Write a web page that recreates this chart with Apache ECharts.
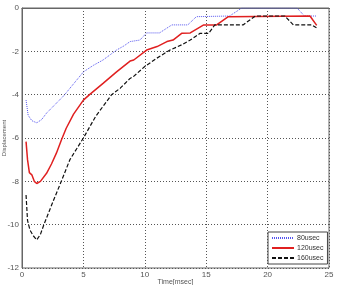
<!DOCTYPE html>
<html>
<head>
<meta charset="utf-8">
<script src="https://cdn.jsdelivr.net/npm/echarts@6/dist/echarts.min.js"></script>
<style>
  html, body { margin: 0; padding: 0; background: #fff; }
  #chart { width: 337px; height: 285px; }
</style>
</head>
<body>
<div id="chart"></div>
<script>
// time [msec] and displacement for each pulse width
var t80 = [0.33, 0.5, 0.8, 1.2, 1.6, 2.0, 2.7, 3.4, 4.2, 5.0, 5.8, 6.6, 7.2, 7.7, 8.3, 8.8, 9.6, 10.15, 11.2, 12.2, 13.5, 14.2, 16.9, 17.9, 22.4, 23.0, 24.0]
var d80 = [-4.25, -4.95, -5.2, -5.3, -5.15, -4.85, -4.45, -4.05, -3.5, -2.95, -2.65, -2.4, -2.15, -1.94, -1.75, -1.55, -1.48, -1.15, -1.15, -0.78, -0.78, -0.4, -0.37, 0, 0, -0.37, -0.37]

var t120 = [0.33, 0.45, 0.6, 0.8, 1.0, 1.2, 1.5, 2.0, 2.4, 2.8, 3.2, 3.6, 4.2, 5.0, 5.5, 6.6, 7.7, 8.8, 9.1, 10.15, 11.0, 11.8, 12.3, 13.0, 13.7, 14.8, 15.85, 16.8, 23.45, 24.0]
var d120 = [-6.17, -7.0, -7.6, -7.7, -8.0, -8.1, -8.0, -7.63, -7.2, -6.7, -6.1, -5.55, -4.9, -4.25, -4.0, -3.48, -2.95, -2.45, -2.4, -1.94, -1.78, -1.55, -1.48, -1.17, -1.15, -0.78, -0.78, -0.4, -0.37, -0.8]

var t160 = [0.33, 0.45, 0.65, 0.9, 1.2, 1.5, 1.75, 2.2, 2.55, 3.2, 3.9, 5.0, 6.0, 7.3, 8.0, 8.8, 9.06, 10.0, 10.97, 12.05, 13.0, 13.7, 14.5, 15.2, 15.7, 18.0, 19.0, 21.4, 22.1, 23.6, 24.0]
var d160 = [-8.63, -9.8, -10.25, -10.5, -10.7, -10.45, -10.05, -9.4, -8.9, -8.0, -7.0, -6.0, -5.0, -4.0, -3.7, -3.25, -3.17, -2.7, -2.32, -1.94, -1.7, -1.48, -1.17, -1.17, -0.78, -0.78, -0.37, -0.37, -0.78, -0.78, -0.92]

var names = ['80usec', '120usec', '160usec']

function pairs(t, d) {
  return t.map(function (x, i) { return [x, d[i]] })
}

var chart = echarts.init(document.getElementById('chart'))
var labelStyle = { color: '#555', fontSize: 8, fontFamily: 'Liberation Sans' }
var gridLine = { lineStyle: { color: '#555', type: [1, 2], width: 1 } }

chart.setOption({
  animation: false,
  backgroundColor: '#fff',
  grid: {
    left: 22, top: 8, right: 8, bottom: 17,
    outerBoundsMode: 'none',
    containLabel: false,
    show: true, borderColor: '#666', borderWidth: 1
  },
  xAxis: {
    type: 'value',
    min: 0, max: 25, interval: 5,
    name: 'Time[msec]',
    nameLocation: 'middle',
    nameGap: 11,
    nameMoveOverlap: false,
    nameTextStyle: { color: '#555', fontSize: 7, fontFamily: 'Liberation Sans' },
    axisLine: { lineStyle: { color: '#666' } },
    axisTick: { show: false },
    axisLabel: Object.assign({ margin: 3 }, labelStyle),
    splitLine: gridLine
  },
  yAxis: {
    type: 'value',
    min: -12, max: 0, interval: 2,
    name: 'Displacement',
    nameLocation: 'middle',
    nameGap: 15,
    nameMoveOverlap: false,
    nameTextStyle: { color: '#555', fontSize: 6, fontFamily: 'Liberation Sans' },
    axisLine: { show: true, lineStyle: { color: '#666' } },
    axisTick: { show: false },
    axisLabel: Object.assign({ margin: 3 }, labelStyle),
    splitLine: gridLine
  },
  legend: {
    data: names,
    orient: 'vertical',
    left: 268, top: 232,
    itemWidth: 22, itemHeight: 7, itemGap: 2,
    padding: [2, 4, 2, 3],
    backgroundColor: '#fff',
    borderColor: '#444', borderWidth: 1,
    itemStyle: { color: 'transparent', borderWidth: 0, opacity: 0 },
    textStyle: { color: '#333', fontSize: 7, lineHeight: 8, fontFamily: 'Liberation Sans', padding: [0, 0, 0, -2] }
  },
  series: [{
    name: names[0], type: 'line', symbol: 'none',
    lineStyle: { color: '#5555ee', width: 1, type: [1, 1] },
    itemStyle: { color: '#5555ee' },
    data: pairs(t80, d80)
  }, {
    name: names[1], type: 'line', symbol: 'none',
    lineStyle: { color: '#e02020', width: 1.5 },
    itemStyle: { color: '#e02020' },
    data: pairs(t120, d120)
  }, {
    name: names[2], type: 'line', symbol: 'none',
    lineStyle: { color: '#111', width: 1.2, type: [4, 2] },
    itemStyle: { color: '#111' },
    data: pairs(t160, d160)
  }]
})
</script>
</body>
</html>
